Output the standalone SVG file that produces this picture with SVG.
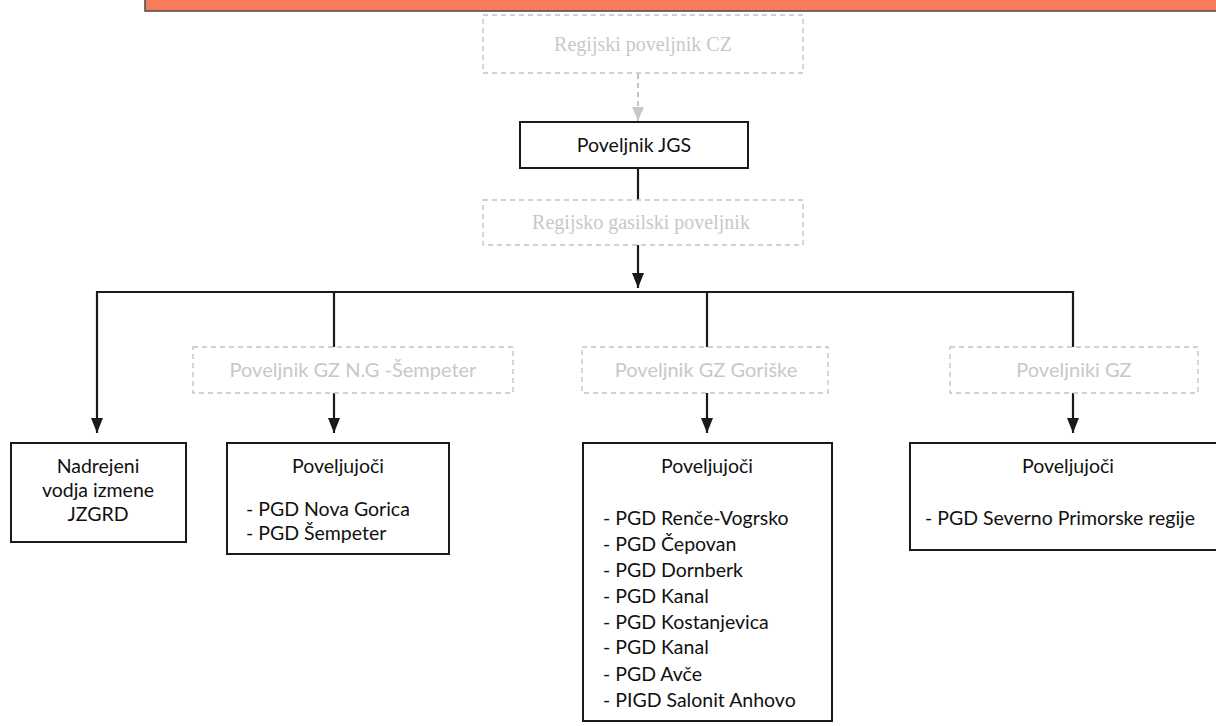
<svg xmlns="http://www.w3.org/2000/svg" width="1216" height="726" viewBox="0 0 1216 726">
<defs>
<style>
.box{fill:#fff;stroke:#1a1a1a;stroke-width:2}
.dbox{fill:#fff;stroke:#c2c2c2;stroke-width:1.3;stroke-dasharray:5 4}
.t{font-family:Lato,"Liberation Sans",sans-serif;font-size:19.5px;fill:#111}
.g{font-family:Lato,"Liberation Sans",sans-serif;font-size:20px;fill:#c8c8c8}
.gs{font-family:"Liberation Serif",serif;font-size:20px;fill:#c8c8c8}
.ln{fill:none;stroke:#1a1a1a;stroke-width:2.2}
.gl{fill:none;stroke:#c2c2c2;stroke-width:2;stroke-dasharray:5 4}
</style>
<marker id="ah" viewBox="0 0 15 12" refX="15" refY="6" markerWidth="15" markerHeight="12" markerUnits="userSpaceOnUse" orient="auto">
<path d="M0,0 L15,6 L0,12 Z" fill="#1a1a1a"/>
</marker>
<marker id="gh" viewBox="0 0 14 12" refX="14" refY="6" markerWidth="14" markerHeight="12" markerUnits="userSpaceOnUse" orient="auto">
<path d="M0,0 L14,6 L0,12 Z" fill="#c8c8c8"/>
</marker>
</defs>
<rect width="1216" height="726" fill="#fff"/>
<g id="header-bar">
<rect x="145" y="-2" width="1075" height="13" fill="#f97b5d" stroke="#4a4a4a" stroke-width="1.5"/>
</g>
<g id="connectors">
<path class="gl" d="M638,74 V121" marker-end="url(#gh)"/>
<path class="ln" d="M638,168 V288" marker-end="url(#ah)"/>
<path class="ln" d="M97,292 H1073 V347"/>
<path class="ln" d="M97,291 V433" marker-end="url(#ah)"/>
<path class="ln" d="M334,292 V347"/>
<path class="ln" d="M707,292 V347"/>
<path class="ln" d="M334,393 V433" marker-end="url(#ah)"/>
<path class="ln" d="M707,393 V433" marker-end="url(#ah)"/>
<path class="ln" d="M1073,393 V433" marker-end="url(#ah)"/>
</g>
<g id="regijski-poveljnik-cz">
<rect class="dbox" x="483" y="15" width="320" height="58"/>
<text class="gs" x="643" y="51" text-anchor="middle">Regijski poveljnik CZ</text>
</g>
<g id="poveljnik-jgs">
<rect class="box" x="520" y="122" width="228" height="46"/>
<text class="t" x="634" y="152" text-anchor="middle">Poveljnik JGS</text>
</g>
<g id="regijsko-gasilski-poveljnik">
<rect class="dbox" x="483" y="200" width="320" height="45"/>
<text class="gs" x="641" y="229" text-anchor="middle">Regijsko gasilski poveljnik</text>
</g>
<g id="poveljnik-gz-ng-sempeter">
<rect class="dbox" x="193" y="347" width="320" height="46"/>
<text class="g" x="353" y="377" text-anchor="middle">Poveljnik GZ  N.G -Šempeter</text>
</g>
<g id="poveljnik-gz-goriske">
<rect class="dbox" x="582" y="347" width="246" height="46"/>
<text class="g" x="706" y="377" text-anchor="middle">Poveljnik GZ  Goriške</text>
</g>
<g id="poveljniki-gz">
<rect class="dbox" x="950" y="347" width="248" height="46"/>
<text class="g" x="1074" y="377" text-anchor="middle">Poveljniki GZ</text>
</g>
<g id="nadrejeni-vodja">
<rect class="box" x="11" y="443" width="175" height="99"/>
<text class="t" x="98" y="473" text-anchor="middle">Nadrejeni</text>
<text class="t" x="98" y="497" text-anchor="middle">vodja izmene</text>
<text class="t" x="98" y="521" text-anchor="middle">JZGRD</text>
</g>
<g id="poveljujoci-1">
<rect class="box" x="227" y="443" width="222" height="111"/>
<text class="t" x="338" y="473" text-anchor="middle">Poveljujoči</text>
<text class="t" x="246" y="516">- PGD Nova Gorica</text>
<text class="t" x="246" y="540">- PGD Šempeter</text>
</g>
<g id="poveljujoci-2">
<rect class="box" x="583" y="443" width="249" height="278"/>
<text class="t" x="707" y="473" text-anchor="middle">Poveljujoči</text>
<text class="t" x="603" y="525">- PGD Renče-Vogrsko</text>
<text class="t" x="603" y="551">- PGD Čepovan</text>
<text class="t" x="603" y="577">- PGD Dornberk</text>
<text class="t" x="603" y="603">- PGD Kanal</text>
<text class="t" x="603" y="629">- PGD Kostanjevica</text>
<text class="t" x="603" y="654">- PGD Kanal</text>
<text class="t" x="603" y="681">- PGD Avče</text>
<text class="t" x="603" y="707">- PIGD Salonit Anhovo</text>
</g>
<g id="poveljujoci-3">
<rect class="box" x="910" y="443" width="320" height="107"/>
<text class="t" x="1068" y="473" text-anchor="middle">Poveljujoči</text>
<text class="t" x="925" y="525">- PGD Severno Primorske regije</text>
</g>
</svg>
